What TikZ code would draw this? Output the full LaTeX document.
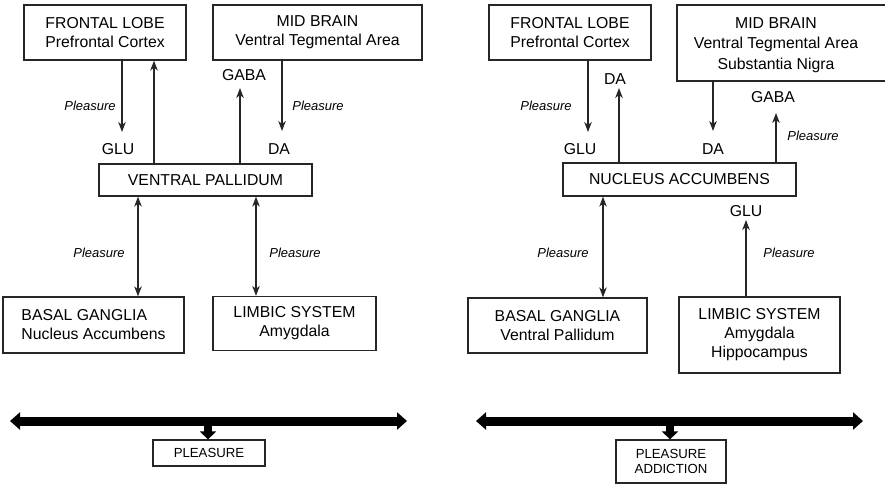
\documentclass[tikz,border=0pt]{standalone}
\usepackage{fontspec}
\setmainfont{Liberation Sans}
\usetikzlibrary{arrows.meta}
\begin{document}
\begin{tikzpicture}[x=1pt,y=-1pt,
  box/.style={draw=black!85, line width=1.25pt, align=center, inner sep=0pt, font=\fontsize{15.8}{19}\selectfont},
  lbl/.style={inner sep=0pt, font=\fontsize{15.8}{19}\selectfont},
  pl/.style={inner sep=0pt, font=\fontsize{13}{15}\selectfont\itshape},
  arr/.style={draw=black!85, line width=1.2pt, -{Stealth[length=10pt,width=7.5pt,inset=3pt]}},
  darr/.style={draw=black!85, line width=1.2pt, {Stealth[length=10pt,width=7.5pt,inset=3pt]}-{Stealth[length=10pt,width=7.5pt,inset=3pt]}},
  bar/.style={line width=9pt, {Triangle[length=10pt,width=17pt]}-{Triangle[length=10pt,width=17pt]}},
  sarr/.style={line width=8pt, -{Triangle[length=8pt,width=16pt]}},
  smallbox/.style={draw=black!85, line width=1.2pt, align=center, inner sep=0pt, font=\fontsize{13.2}{15}\selectfont}
]
\useasboundingbox (0,0) rectangle (885,484);

% ---------------- left panel ----------------
\node[box, minimum width=162pt, minimum height=55pt] (FL) at (105,32.5) {FRONTAL LOBE\\Prefrontal Cortex};
\node[box, minimum width=209pt, minimum height=55pt] (MB) at (317.5,32.5) {MID BRAIN\\Ventral Tegmental Area};
\node[box, minimum width=213pt, minimum height=32pt] (VP) at (205.5,180) {VENTRAL PALLIDUM};
\node[box, align=left, minimum width=181pt, minimum height=56pt] (BG) at (93.5,325) {BASAL GANGLIA\\Nucleus Accumbens};
\node[box, minimum width=163pt, minimum height=54pt] (LS) at (294.5,323.5) {LIMBIC SYSTEM\\Amygdala};

\node[pl] (p1) at (90,106) {Pleasure};
\node[lbl] (glu1) at (118,149) {GLU};
\node[lbl] (gaba1) at (244,75) {GABA};
\node[lbl] (da1) at (279,149) {DA};
\node[pl] (p2) at (318,106) {Pleasure};
\node[pl] (p3) at (99,253) {Pleasure};
\node[pl] (p4) at (295,253) {Pleasure};

\coordinate (e1) at (122,132);
\coordinate (e2) at (240,88);
\coordinate (e3) at (282,131);
\draw[arr] (FL.south -| e1) -- (e1);
\draw[arr] (VP.north -| 154,0) -- (FL.south -| 154,0);
\draw[arr] (VP.north -| e2) -- (e2);
\draw[arr] (MB.south -| e3) -- (e3);
\draw[darr] (VP.south -| 138,0) -- (BG.north -| 138,0);
\draw[darr] (VP.south -| 256,0) -- (LS.north -| 256,0);

\node[smallbox, minimum width=112pt, minimum height=26pt] (PL) at (209,453) {PLEASURE};
\coordinate (bL) at (10,421);
\coordinate (bR) at (407,421);
\coordinate (bM) at (208,421);
\draw[bar] (bL) -- (bR);
\draw[sarr] (bM) -- (PL.north -| bM);

% ---------------- right panel ----------------
\node[box, minimum width=162pt, minimum height=55pt] (FL2) at (570,32.5) {FRONTAL LOBE\\Prefrontal Cortex};
\node[draw=black!85, line width=1.25pt, minimum width=215pt, minimum height=76pt, inner sep=0pt] (MB2) at (784.5,43) {};
\node[lbl, align=center, font=\fontsize{15.8}{20.5}\selectfont] (MB2t) at (776,45) {MID BRAIN\\Ventral Tegmental Area\\Substantia Nigra};
\node[box, minimum width=233pt, minimum height=33pt] (NA) at (679.5,179.5) {NUCLEUS ACCUMBENS};
\node[box, minimum width=179pt, minimum height=55pt] (BG2) at (557.5,325.5) {BASAL GANGLIA\\Ventral Pallidum};
\node[box, minimum width=161pt, minimum height=76pt] (LS2) at (759.5,335) {LIMBIC SYSTEM\\Amygdala\\Hippocampus};

\node[pl] (q1) at (546,106) {Pleasure};
\node[lbl] (glu2) at (580,149) {GLU};
\node[lbl] (da2) at (615,79) {DA};
\node[lbl] (da3) at (713,149) {DA};
\node[lbl] (gaba2) at (773,97) {GABA};
\node[pl] (q2) at (813,136) {Pleasure};
\node[pl] (q3) at (563,253) {Pleasure};
\node[lbl] (glu3) at (746,211) {GLU};
\node[pl] (q4) at (789,253) {Pleasure};

\coordinate (f1) at (588,132);
\coordinate (f2) at (619,88);
\coordinate (f3) at (713,131);
\coordinate (f4) at (776,113);
\coordinate (f5) at (746,220);
\draw[arr] (FL2.south -| f1) -- (f1);
\draw[arr] (NA.north -| f2) -- (f2);
\draw[arr] (MB2.south -| f3) -- (f3);
\draw[arr] (NA.north -| f4) -- (f4);
\draw[darr] (NA.south -| 603,0) -- (BG2.north -| 603,0);
\draw[arr] (LS2.north -| f5) -- (f5);

\node[smallbox, minimum width=110pt, minimum height=43pt] (PA) at (671,461.5) {PLEASURE\\ADDICTION};
\coordinate (cL) at (476,421);
\coordinate (cR) at (863,421);
\coordinate (cM) at (670,421);
\draw[bar] (cL) -- (cR);
\draw[sarr] (cM) -- (PA.north -| cM);
\end{tikzpicture}
\end{document}
